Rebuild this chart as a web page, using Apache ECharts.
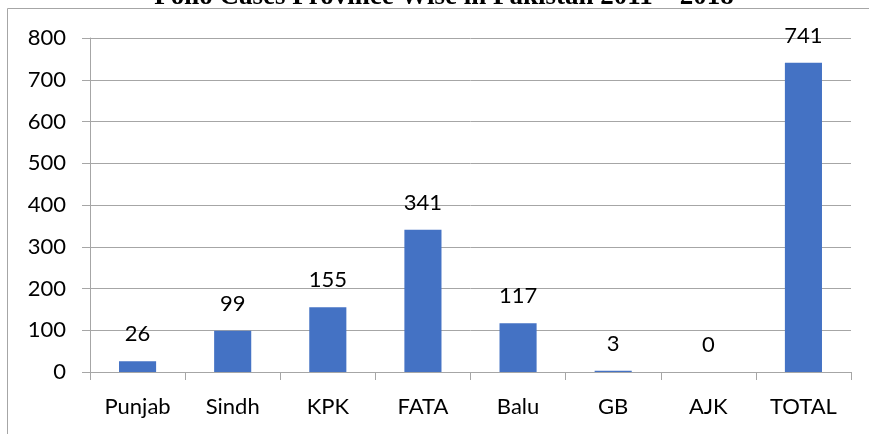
<!DOCTYPE html>
<html>
<head>
<meta charset="utf-8">
<script src="https://cdn.jsdelivr.net/npm/echarts@6/dist/echarts.min.js"></script>
<style>
  html, body { margin: 0; padding: 0; background: #fff; }
  #chart { width: 869px; height: 434px; }
</style>
</head>
<body>
<div id="chart"></div>
<script>
let provinces = ['Punjab', 'Sindh', 'KPK', 'FATA', 'Balu', 'GB', 'AJK', 'TOTAL']
let cases = [26, 99, 155, 341, 117, 3, 0, 741]
let titleText = 'Polio Cases Province Wise in Pakistan 2011 \u2013 2018'

let myChart = echarts.init(document.getElementById('chart'))
let labelFont = 'Lato, "Open Sans", sans-serif'

let option = {
  animation: false,
  graphic: [
    {
      type: 'rect',
      shape: { x: 7.5, y: 8.5, width: 900, height: 500 },
      style: { fill: 'none', stroke: '#a6a6a6', lineWidth: 1 }
    },
    {
      type: 'text',
      x: 444,
      y: 11,
      z: 10,
      style: {
        text: titleText,
        font: 'bold 27px "Liberation Serif", serif',
        fill: '#000',
        align: 'center',
        verticalAlign: 'bottom'
      }
    }
  ],
  grid: { left: 90, right: 18, top: 38, bottom: 62 },
  xAxis: {
    type: 'category',
    data: provinces,
    axisLine: { lineStyle: { color: '#a6a6a6' } },
    axisTick: { show: true, length: 8, lineStyle: { color: '#a6a6a6' } },
    axisLabel: { color: '#000', fontSize: 22, fontFamily: labelFont, margin: 24 }
  },
  yAxis: {
    type: 'value',
    min: 0,
    max: 800,
    interval: 100,
    axisLine: { show: true, lineStyle: { color: '#a6a6a6' } },
    axisTick: { show: true, length: 8, lineStyle: { color: '#a6a6a6' } },
    axisLabel: { color: '#000', fontSize: 22, fontFamily: labelFont, margin: 24 },
    splitLine: { lineStyle: { color: '#a6a6a6' } }
  },
  series: [
    {
      type: 'bar',
      data: cases,
      barWidth: '39%',
      itemStyle: { color: '#4472c4' },
      label: {
        show: true,
        position: 'top',
        distance: 16,
        color: '#000',
        fontSize: 22,
        fontFamily: labelFont
      }
    }
  ]
}
myChart.setOption(option, true)
</script>
</body>
</html>
